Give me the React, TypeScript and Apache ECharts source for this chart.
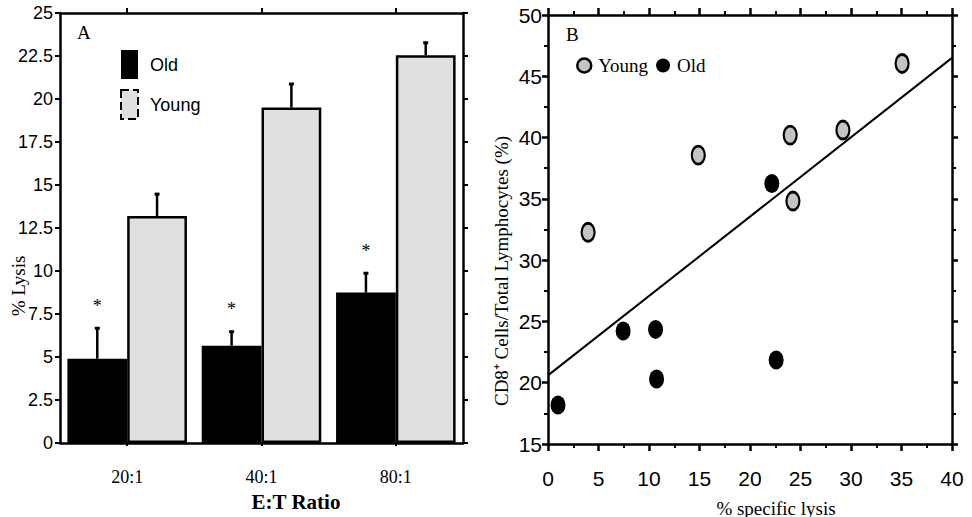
import React, { useEffect, useRef } from "react";
import * as echarts from "echarts";

// ---------- Panel A data ----------
const ratios = ["20:1", "40:1", "80:1"];
const oldLysis = [4.9, 5.65, 8.75];
const oldLysisErrTop = [6.7, 6.5, 9.9];
const youngLysis = [13.2, 19.5, 22.55];
const youngLysisErrTop = [14.5, 20.9, 23.3];
const oldSignificant = [1, 1, 1];
const lysisTicks = { min: 0, max: 25, interval: 2.5 };

// ---------- Panel B data ----------
const youngX = [3.97, 14.88, 23.98, 24.25, 29.2, 35.06];
const youngY = [32.27, 38.57, 40.2, 34.82, 40.61, 46.05];
const oldX = [0.99, 7.44, 10.65, 10.75, 22.16, 22.59];
const oldY = [18.18, 24.22, 24.35, 20.3, 36.26, 21.85];
const trendX = [0, 40];
const trendY = [20.6, 46.5];

const BAR_GAP = 0.11;
const SANS = "'Liberation Sans', Arial, sans-serif";
const SERIF = "'Liberation Serif', 'Times New Roman', serif";
const ELLIPSE = "path://M50,0 A50,50 0 1,1 50,100 A50,50 0 1,1 50,0 Z";
const YOUNG_BAR_FILL = "#e0e0e0";
const YOUNG_DOT_FILL = "#c4c4c4";

const axisLine = { show: true, onZero: false, lineStyle: { color: "#000", width: 2.5 } };
const minorTick = { show: true, splitNumber: 2, length: 4, lineStyle: { color: "#000", width: 2 } };

export default function App() {
  const ref = useRef<HTMLDivElement>(null);

  useEffect(() => {
    if (!ref.current) return;
    const chart = echarts.init(ref.current, undefined, { renderer: "svg" });

    const errData = [
      ...ratios.map((_, i) => [i, oldLysis[i], oldLysisErrTop[i], 0, oldSignificant[i]]),
      ...ratios.map((_, i) => [i, youngLysis[i], youngLysisErrTop[i], 1, 0]),
    ];

    const option: any = {
      animation: false,
      backgroundColor: "#fff",
      grid: [
        { left: 60, top: 13, width: 403, height: 430 },
        { left: 548, top: 15, width: 404, height: 429 },
      ],
      xAxis: [
        {
          gridIndex: 0,
          type: "category",
          data: ratios,
          position: "bottom",
          axisLine,
          axisTick: { show: true, alignWithLabel: true, length: 3, lineStyle: { width: 2 } },
          axisLabel: { color: "#000", fontFamily: SERIF, fontSize: 18, margin: 25 },
        },
        {
          gridIndex: 0,
          type: "category",
          data: ratios,
          position: "top",
          axisLine,
          axisTick: { show: true, alignWithLabel: true, length: 5, lineStyle: { width: 2 } },
          axisLabel: { show: false },
        },
        {
          gridIndex: 1,
          type: "value",
          min: 0,
          max: 40,
          interval: 5,
          position: "bottom",
          axisLine,
          axisTick: { show: true, length: 7, lineStyle: { width: 2.5 } },
          minorTick,
          splitLine: { show: false },
          axisLabel: { color: "#000", fontFamily: SANS, fontSize: 21, margin: 24 },
        },
        {
          gridIndex: 1,
          type: "value",
          min: 0,
          max: 40,
          interval: 5,
          position: "top",
          axisLine,
          axisTick: { show: true, length: 7, lineStyle: { width: 2.5 } },
          minorTick,
          splitLine: { show: false },
          axisLabel: { show: false },
        },
      ],
      yAxis: [
        {
          gridIndex: 0,
          type: "value",
          ...lysisTicks,
          position: "left",
          axisLine,
          axisTick: { show: true, length: 5, lineStyle: { width: 2 } },
          splitLine: { show: false },
          axisLabel: { color: "#000", fontFamily: SANS, fontSize: 18, margin: 7 },
        },
        {
          gridIndex: 0,
          type: "value",
          ...lysisTicks,
          position: "right",
          axisLine,
          axisTick: { show: true, length: 5, lineStyle: { width: 2 } },
          splitLine: { show: false },
          axisLabel: { show: false },
        },
        {
          gridIndex: 1,
          type: "value",
          min: 15,
          max: 50,
          interval: 5,
          position: "left",
          axisLine,
          axisTick: { show: true, length: 6, lineStyle: { width: 2.5 } },
          minorTick,
          splitLine: { show: false },
          axisLabel: { color: "#000", fontFamily: SANS, fontSize: 21, margin: 6 },
        },
        {
          gridIndex: 1,
          type: "value",
          min: 15,
          max: 50,
          interval: 5,
          position: "right",
          axisLine,
          axisTick: { show: true, length: 6, lineStyle: { width: 2.5 } },
          minorTick,
          splitLine: { show: false },
          axisLabel: { show: false },
        },
      ],
      legend: [
        {
          selectedMode: false,
          orient: "vertical",
          left: 120,
          top: 50,
          itemWidth: 17,
          itemHeight: 29,
          itemGap: 10,
          padding: 0,
          textStyle: { color: "#000", fontFamily: SANS, fontSize: 18, padding: [0, 0, 0, 7] },
          data: [
            { name: "Old", icon: "rect", itemStyle: { color: "#000", borderWidth: 0 } },
            {
              name: "Young",
              icon: "rect",
              itemStyle: { color: YOUNG_BAR_FILL, borderColor: "#000", borderWidth: 2, borderType: "dashed" },
            },
          ],
        },
        {
          selectedMode: false,
          orient: "horizontal",
          left: 576,
          top: 56,
          itemWidth: 14,
          itemHeight: 18,
          itemGap: 8,
          padding: 0,
          textStyle: { color: "#000", fontFamily: SERIF, fontSize: 19, padding: [0, 0, 0, 2] },
          data: [
            {
              name: "Young",
              icon: ELLIPSE,
              itemStyle: { color: YOUNG_DOT_FILL, borderColor: "#000", borderWidth: 2.5, borderType: "solid" },
            },
            { name: "Old", icon: ELLIPSE, itemStyle: { color: "#000", borderWidth: 0 } },
          ],
        },
      ],
      series: [
        {
          name: "Old",
          type: "bar",
          xAxisIndex: 0,
          yAxisIndex: 0,
          data: oldLysis,
          barGap: "0%",
          barCategoryGap: `${BAR_GAP * 100}%`,
          itemStyle: { color: "#000" },
        },
        {
          name: "Young",
          type: "bar",
          xAxisIndex: 0,
          yAxisIndex: 0,
          data: youngLysis,
          barGap: "0%",
          barCategoryGap: `${BAR_GAP * 100}%`,
          itemStyle: { color: YOUNG_BAR_FILL, borderColor: "#000", borderWidth: 2.5 },
        },
        {
          name: "errors",
          type: "custom",
          xAxisIndex: 0,
          yAxisIndex: 0,
          z: 5,
          data: errData,
          renderItem: (_params: any, api: any) => {
            const ci = api.value(0);
            const v = api.value(1);
            const e = api.value(2);
            const g = api.value(3);
            const star = api.value(4);
            const bandW = api.size([1, 0])[0];
            const barW = (bandW * (1 - BAR_GAP)) / 2;
            const base = api.coord([ci, v]);
            const top = api.coord([ci, e]);
            const x = base[0] + (g === 0 ? -barW / 2 : barW / 2);
            const children: any[] = [
              {
                type: "line",
                shape: { x1: x, y1: base[1], x2: x, y2: top[1] },
                style: { stroke: "#000", lineWidth: 2.5 },
              },
              {
                type: "rect",
                shape: { x: x - 2.5, y: top[1] - 1, width: 5, height: 3 },
                style: { fill: "#000" },
              },
            ];
            if (star) {
              children.push({
                type: "text",
                x,
                y: top[1] - 22,
                style: {
                  text: "*",
                  fill: "#000",
                  font: `18px ${SERIF}`,
                  align: "center",
                  verticalAlign: "middle",
                },
              });
            }
            return { type: "group", children };
          },
        },
        {
          name: "Young",
          type: "scatter",
          xAxisIndex: 2,
          yAxisIndex: 2,
          data: youngX.map((x, i) => [x, youngY[i]]),
          symbol: ELLIPSE,
          symbolSize: [13, 18],
          itemStyle: { color: YOUNG_DOT_FILL, borderColor: "#000", borderWidth: 2.5, opacity: 1 },
          z: 4,
        },
        {
          name: "Old",
          type: "scatter",
          xAxisIndex: 2,
          yAxisIndex: 2,
          data: oldX.map((x, i) => [x, oldY[i]]),
          symbol: ELLIPSE,
          symbolSize: [15, 19],
          itemStyle: { color: "#000", opacity: 1 },
          z: 4,
        },
        {
          name: "trend",
          type: "line",
          xAxisIndex: 2,
          yAxisIndex: 2,
          data: trendX.map((x, i) => [x, trendY[i]]),
          symbol: "none",
          lineStyle: { color: "#000", width: 2 },
          z: 3,
        },
      ],
      graphic: [
        {
          type: "text",
          left: 77,
          top: 23,
          style: { text: "A", fill: "#000", font: `19px ${SERIF}` },
        },
        {
          type: "text",
          left: 566,
          top: 25,
          style: { text: "B", fill: "#000", font: `19px ${SERIF}` },
        },
        {
          type: "text",
          x: 18,
          y: 286,
          rotation: Math.PI / 2,
          style: {
            text: "% Lysis",
            fill: "#000",
            font: `19px ${SERIF}`,
            align: "center",
            verticalAlign: "middle",
          },
        },
        {
          type: "text",
          x: 296,
          y: 502,
          style: {
            text: "E:T Ratio",
            fill: "#000",
            font: `bold 21px ${SERIF}`,
            align: "center",
            verticalAlign: "middle",
          },
        },
        {
          type: "text",
          x: 501,
          y: 271,
          rotation: Math.PI / 2,
          style: {
            text: "CD8⁺ Cells/Total Lymphocytes (%)",
            fill: "#000",
            font: `19px ${SERIF}`,
            align: "center",
            verticalAlign: "middle",
          },
        },
        {
          type: "text",
          x: 776,
          y: 508,
          style: {
            text: "% specific lysis",
            fill: "#000",
            font: `19px ${SERIF}`,
            align: "center",
            verticalAlign: "middle",
          },
        },
      ],
    };

    chart.setOption(option);
    return () => chart.dispose();
  }, []);

  return (
    <div
      ref={ref}
      style={{ position: "absolute", left: 0, top: 0, width: 972, height: 517, background: "#fff" }}
    />
  );
}
